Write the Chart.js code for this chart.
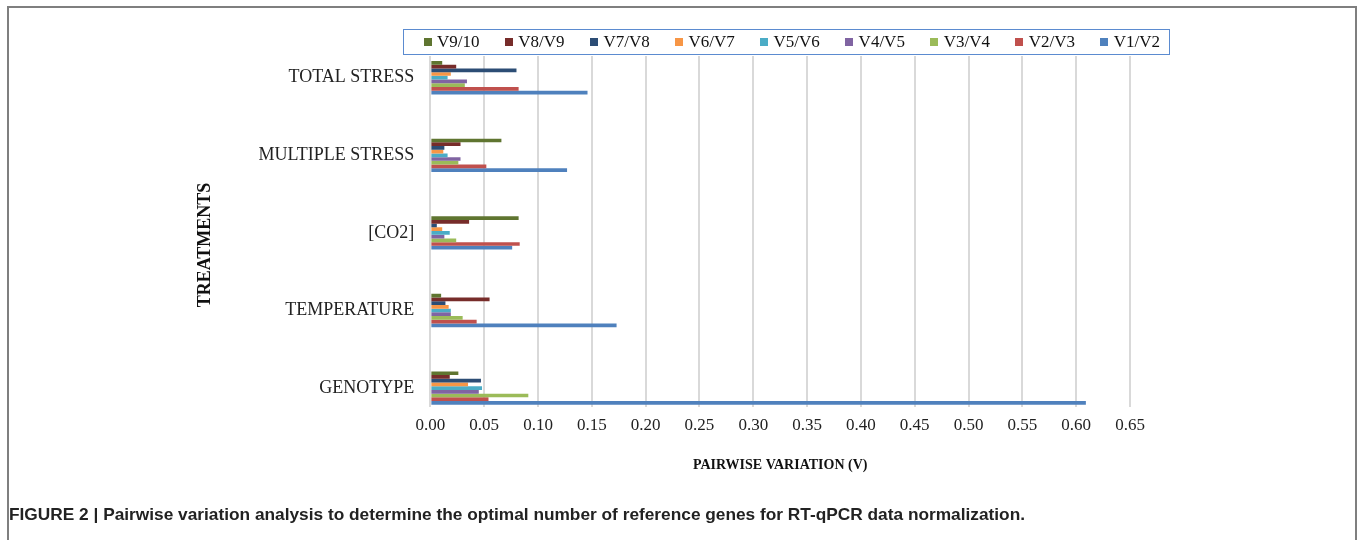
<!DOCTYPE html>
<html>
<head>
<meta charset="utf-8">
<title>Pairwise variation</title>
<script src="https://cdn.jsdelivr.net/npm/chart.js@4.4.1/dist/chart.umd.min.js"></script>
<style>
    body { margin: 0; background: #fff; width: 1360px; height: 547px; overflow: hidden; position: relative; font-family: "Liberation Serif", "Times New Roman", serif; }
    #frame { position: absolute; left: 7px; top: 6px; width: 1346px; height: 532px; border: 2px solid #7f7f7f; border-bottom: none; }
    #chart { position: absolute; left: 0; top: 0; }
    #legend { position: absolute; left: 403px; top: 29px; width: 765px; height: 24px; border: 1.5px solid #5b8bd0; box-sizing: content-box;
              display: flex; align-items: center; justify-content: flex-start; gap: 25.3px; padding-left: 0; font-size: 17px; color: #111; }
    #legend .item:first-child { margin-left: 19.5px; }
    .item { display: flex; align-items: center; white-space: nowrap; }
    .item i { width: 8px; height: 8px; margin-right: 5.5px; display: inline-block; }
    #caption { position: absolute; left: 9px; top: 504px; font: bold 17.3px "Liberation Sans", Arial, sans-serif; color: #222; white-space: nowrap; }
</style>
</head>
<body>
<div id="frame"></div>
<canvas id="chart" width="1360" height="547"></canvas>
<div id="legend"></div>
<div id="caption">FIGURE 2 | Pairwise variation analysis to determine the optimal number of reference genes for RT-qPCR data normalization.</div>
<script>
// Categories (top to bottom)
const categories = ['TOTAL STRESS', 'MULTIPLE STRESS', '[CO2]', 'TEMPERATURE', 'GENOTYPE'];

// Series, in legend order (top bar of each group first)
const seriesNames = ['V9/10', 'V8/V9', 'V7/V8', 'V6/V7', 'V5/V6', 'V4/V5', 'V3/V4', 'V2/V3', 'V1/V2'];
const seriesColors = ['#5f7530', '#772c2a', '#2c4d75', '#f79646', '#4bacc6', '#8064a2', '#9bbb59', '#c0504d', '#4f81bd'];

// Pairwise variation values per category
const v9_10 = [0.011, 0.066, 0.082, 0.010, 0.026];
const v8_9  = [0.024, 0.028, 0.036, 0.055, 0.018];
const v7_8  = [0.080, 0.013, 0.006, 0.014, 0.047];
const v6_7  = [0.019, 0.012, 0.011, 0.017, 0.035];
const v5_6  = [0.016, 0.016, 0.018, 0.019, 0.048];
const v4_5  = [0.034, 0.028, 0.013, 0.019, 0.045];
const v3_4  = [0.032, 0.026, 0.024, 0.030, 0.091];
const v2_3  = [0.082, 0.052, 0.083, 0.043, 0.054];
const v1_2  = [0.146, 0.127, 0.076, 0.173, 0.609];
const seriesValues = [v9_10, v8_9, v7_8, v6_7, v5_6, v4_5, v3_4, v2_3, v1_2];

// Build the legend box
const legendEl = document.getElementById('legend');
seriesNames.forEach((name, i) => {
    const item = document.createElement('span');
    item.className = 'item';
    item.innerHTML = '<i style="background:' + seriesColors[i] + '"></i>' + name;
    legendEl.appendChild(item);
});

const serif = 'Liberation Serif';

const ctx = document.getElementById('chart').getContext('2d');
new Chart(ctx, {
    type: 'bar',
    data: {
        labels: categories.map((c, i) => i),
        datasets: seriesNames.map((name, i) => ({
            label: name,
            data: seriesValues[i],
            backgroundColor: seriesColors[i],
            borderWidth: 0,
            categoryPercentage: 0.43,
            barPercentage: 1
        }))
    },
    options: {
        indexAxis: 'y',
        responsive: false,
        animation: false,
        layout: { padding: { left: 190, right: 230, top: 56, bottom: 73.6 } },
        plugins: {
            legend: { display: false },
            tooltip: { enabled: false }
        },
        scales: {
            x: {
                min: 0,
                max: 0.65,
                ticks: {
                    stepSize: 0.05,
                    padding: 8,
                    color: '#222',
                    font: { family: serif, size: 17 },
                    callback: v => Number(v).toFixed(2)
                },
                grid: { color: '#d9d9d9', lineWidth: 2, drawTicks: false },
                border: { display: false },
                title: {
                    display: true,
                    text: 'PAIRWISE VARIATION (V)',
                    color: '#111',
                    font: { family: serif, size: 14, weight: 'bold' },
                    padding: { top: 13.2, bottom: 0 }
                }
            },
            y: {
                type: 'linear',
                reverse: true,
                offset: false,
                min: -0.28,
                max: 4.244,
                ticks: {
                    stepSize: 1,
                    includeBounds: false,
                    padding: 16,
                    color: '#222',
                    font: { family: serif, size: 18 },
                    callback: v => categories[v] ?? ''
                },
                grid: { display: false, drawTicks: false },
                border: { display: false },
                title: {
                    display: true,
                    // trailing spaces nudge the rotated title down a little, as in the original
                    text: 'TREATMENTS      ',
                    color: '#111',
                    font: { family: serif, size: 18, weight: 'bold' },
                    padding: { top: 4.2, bottom: 26.7 }
                }
            }
        }
    }
});
</script>
</body>
</html>
